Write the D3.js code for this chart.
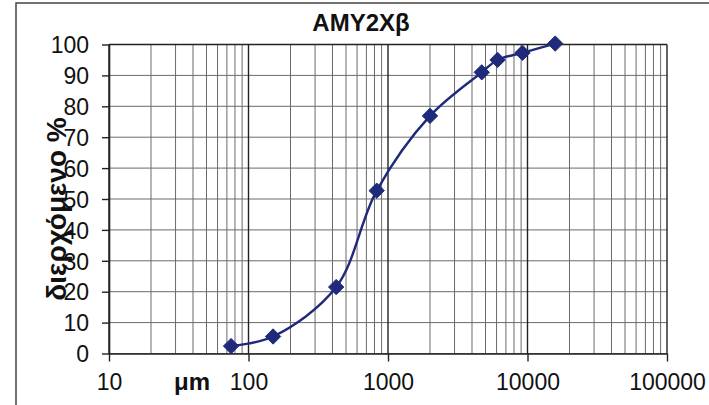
<!DOCTYPE html>
<html>
<head>
<meta charset="utf-8">
<script src="https://cdn.jsdelivr.net/npm/d3@7"></script>
<style>
  body { margin: 0; background: #fff; }
  svg { display: block; font-family: "Liberation Sans", Arial, sans-serif; }
</style>
</head>
<body>
<div class="chart"></div>
<script>
// sieve sizes (μm) and percent passing
var sizes = [75, 150, 425, 830, 2000, 4700, 6100, 9200, 15800];
var passing = [2.4, 5.5, 21.5, 52.7, 76.9, 91, 95, 97.3, 100.3];
var xTicks = [10, 100, 1000, 10000, 100000];
var yTicks = [0, 10, 20, 30, 40, 50, 60, 70, 80, 90, 100];
var title = "AMY2Xβ";
var yLabel = "διερχόμενο %";
var xLabel = "μm";

var svgWidth = 709, svgHeight = 405;
var margin = { top: 44.5, bottom: 51.5, right: 42, left: 109 };
var width = svgWidth - margin.left - margin.right;
var height = svgHeight - margin.top - margin.bottom;

var svg = d3.select(".chart")
  .append("svg")
  .attr("width", svgWidth)
  .attr("height", svgHeight);

// outer frame (only left/top visible in the scan)
svg.append("rect")
  .attr("x", 16).attr("y", 3)
  .attr("width", 720).attr("height", 420)
  .attr("fill", "none")
  .attr("stroke", "#444")
  .attr("stroke-width", 1.5);

var chart = svg.append("g")
  .attr("transform", `translate(${margin.left}, ${margin.top})`);

var x = d3.scaleLog()
  .domain([10, 100000])
  .range([0, width]);

var y = d3.scaleLinear()
  .domain([0, 100])
  .range([height, 0]);

// minor vertical grid lines (2..9 of each decade)
var minor = [];
xTicks.slice(0, -1).forEach(function (d) {
  for (var k = 2; k <= 9; k++) minor.push(d * k);
});

chart.append("g")
  .selectAll("line")
  .data(minor)
  .enter().append("line")
  .attr("x1", d => x(d)).attr("x2", d => x(d))
  .attr("y1", 0).attr("y2", height)
  .attr("stroke", "#6a6a6a")
  .attr("stroke-width", 1);

// horizontal grid
chart.append("g")
  .selectAll("line")
  .data(yTicks)
  .enter().append("line")
  .attr("x1", 0).attr("x2", width)
  .attr("y1", d => y(d)).attr("y2", d => y(d))
  .attr("stroke", "#6a6a6a")
  .attr("stroke-width", 1);

// decade lines
chart.append("g")
  .selectAll("line")
  .data(xTicks)
  .enter().append("line")
  .attr("x1", d => x(d)).attr("x2", d => x(d))
  .attr("y1", 0).attr("y2", height)
  .attr("stroke", "#222")
  .attr("stroke-width", 1.4);

// axes
var yAxis = chart.append("g")
  .attr("class", "y-axis")
  .call(d3.axisLeft(y).tickValues(yTicks).tickSize(7).tickSizeOuter(0).tickPadding(13));

var xAxis = chart.append("g")
  .attr("class", "x-axis")
  .attr("transform", "translate(0," + height + ")")
  .call(d3.axisBottom(x).tickValues(xTicks).tickFormat(d3.format("d")).tickSize(8).tickSizeOuter(0).tickPadding(12));

chart.selectAll(".domain").attr("stroke", "#222").attr("stroke-width", 1.6);
chart.selectAll(".tick line").attr("stroke", "#222").attr("stroke-width", 1.4);
chart.selectAll(".tick text")
  .attr("fill", "#111")
  .style("font-size", "23px")
  .style("font-family", "Liberation Sans, Arial, sans-serif");
yAxis.selectAll(".tick text").attr("dy", "0.36em");
xAxis.selectAll(".tick text").attr("dy", "0.7em");

// plot border top
chart.append("line")
  .attr("x1", 0).attr("x2", width).attr("y1", 0).attr("y2", 0)
  .attr("stroke", "#222").attr("stroke-width", 1.4);

// smoothed line
var pts = sizes.map((s, i) => [s, passing[i]]);
var line = d3.line()
  .x(d => x(d[0]))
  .y(d => y(d[1]))
  .curve(d3.curveCatmullRom.alpha(0.5));

chart.append("path")
  .datum(pts)
  .attr("fill", "none")
  .attr("stroke", "#1f2a7a")
  .attr("stroke-width", 2.4)
  .attr("d", line);

chart.append("g")
  .selectAll("path")
  .data(pts)
  .enter().append("path")
  .attr("transform", d => `translate(${x(d[0])},${y(d[1])})`)
  .attr("d", d3.symbol().type(d3.symbolDiamond2).size(150))
  .attr("fill", "#1f2a7a")
  .attr("stroke", "#1f2a7a")
  .attr("stroke-width", 1);

// labels
svg.append("text")
  .attr("x", 361).attr("y", 31)
  .attr("text-anchor", "middle")
  .style("font-size", "24px")
  .style("font-weight", "bold")
  .attr("fill", "#111")
  .text(title);

svg.append("text")
  .attr("transform", "translate(66,209) rotate(-90)")
  .attr("text-anchor", "middle")
  .style("font-size", "28px")
  .style("font-weight", "bold")
  .attr("fill", "#111")
  .text(yLabel);

svg.append("text")
  .attr("x", 192).attr("y", 390)
  .attr("text-anchor", "middle")
  .style("font-size", "24px")
  .style("font-weight", "bold")
  .attr("fill", "#111")
  .text(xLabel);
</script>
</body>
</html>
